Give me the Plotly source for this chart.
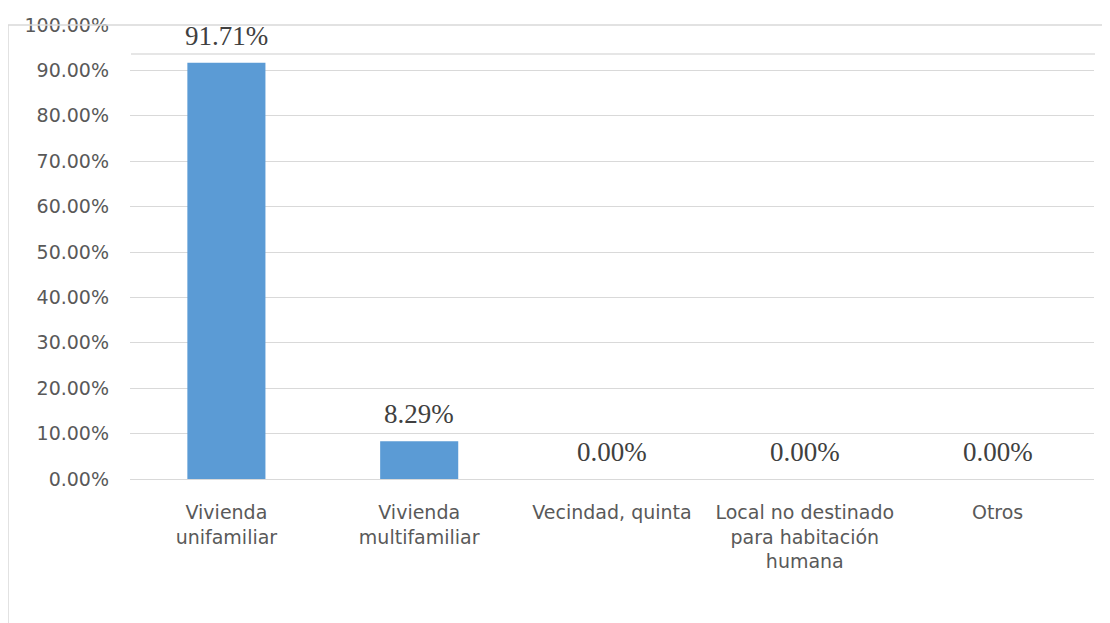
import plotly.graph_objects as go

categories = ["Vivienda<br>unifamiliar", "Vivienda<br>multifamiliar", "Vecindad, quinta",
              "Local no destinado<br>para habitación<br>humana", "Otros"]
values = [91.71, 8.29, 0.0, 0.0, 0.0]
y_ticks = [0, 10, 20, 30, 40, 50, 60, 70, 80, 90, 100]
y_tick_labels = [f"{v:.2f}%" for v in y_ticks]

fig = go.Figure()
fig.add_trace(go.Bar(
    x=categories, y=values,
    marker=dict(color="#5b9bd5", line=dict(width=0)),
    width=0.405,
))

for c, v in zip(categories, values):
    fig.add_annotation(
        x=c, y=v, xref="x", yref="y", text=f"{v:.2f}%", showarrow=False,
        yanchor="middle", yshift=27,
        font=dict(family="Liberation Serif", size=27, color="#404040"),
    )

fig.update_layout(
    width=1110, height=623,
    margin=dict(l=122, r=24, t=17, b=152, autoexpand=False),
    paper_bgcolor="white", plot_bgcolor="white",
    showlegend=False,
    font=dict(family="DejaVu Sans", size=19, color="#595959"),
    xaxis=dict(showgrid=False, showline=False, ticks="", tickangle=0, automargin=False,
               ticklabelstandoff=20, tickfont=dict(family="DejaVu Sans", size=19, color="#595959")),
    yaxis=dict(range=[0, 100], tickvals=y_ticks, ticktext=y_tick_labels, automargin=False,
               showgrid=True, gridcolor="#d9d9d9", gridwidth=1, zeroline=True,
               zerolinecolor="#d9d9d9", zerolinewidth=1, showline=False, ticks="",
               ticklabelstandoff=20, tickfont=dict(family="DejaVu Sans", size=19, color="#595959")),
    shapes=[
        dict(type="line", xref="paper", yref="paper", x0=-122/964, x1=1.03, y0=1, y1=1,
             line=dict(color="#d9d9d9", width=1.5)),
        dict(type="line", xref="paper", yref="paper", x0=-122/964, x1=-122/964, y0=1, y1=-152/454,
             line=dict(color="#d9d9d9", width=1.5)),
        dict(type="line", xref="paper", yref="paper", x0=1/964, x1=965/964,
             y0=(479 - 54) / 454, y1=(479 - 54) / 454,
             line=dict(color="#dedede", width=1.5)),
    ],
)

fig.write_html("out.html")
